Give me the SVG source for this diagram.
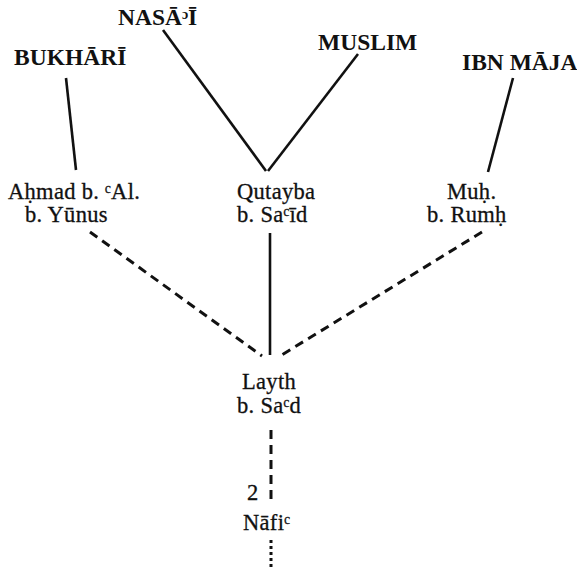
<svg xmlns="http://www.w3.org/2000/svg" width="577" height="570" viewBox="0 0 577 570">
  <style>
    .head { font-family: "Liberation Serif", "DejaVu Serif", serif; font-size: 23.5px; font-weight: bold; fill: #111; }
    .name { font-family: "Liberation Serif", "DejaVu Serif", serif; font-size: 22.5px; letter-spacing: 0.3px; fill: #111; stroke: #111; stroke-width: 0.3; }
    .solid { stroke: #111; stroke-width: 2.6; fill: none; }
    .dash { stroke: #111; stroke-width: 3; fill: none; stroke-dasharray: 9 6; }
    .dot { stroke: #111; stroke-width: 3; fill: none; stroke-dasharray: 3 3; }
  </style>
  <rect width="577" height="570" fill="#fff"/>

  <!-- lines of transmission -->
  <g id="connectors">
    <line class="solid" x1="66" y1="78" x2="76" y2="170"/>
    <line class="solid" x1="163" y1="30" x2="266" y2="171"/>
    <line class="solid" x1="358" y1="54" x2="268" y2="171"/>
    <line class="solid" x1="513" y1="78" x2="488" y2="172"/>
    <line class="dash" x1="90" y1="232" x2="262" y2="356"/>
    <line class="solid" x1="270" y1="233" x2="270" y2="355"/>
    <line class="dash" x1="482" y1="232" x2="280" y2="356"/>
    <line class="dash" x1="271" y1="430" x2="271" y2="500"/>
    <line class="dot" x1="271" y1="540" x2="271" y2="570"/>
  </g>

  <!-- collectors -->
  <g id="nasai"><text class="head" x="118" y="25">NASĀᵓĪ</text></g>
  <g id="bukhari"><text class="head" x="14" y="65">BUKHĀRĪ</text></g>
  <g id="muslim"><text class="head" x="318" y="50">MUSLIM</text></g>
  <g id="ibn-maja"><text class="head" x="462" y="70">IBN MĀJA</text></g>

  <!-- transmitters -->
  <g id="ahmad">
    <text class="name" x="8" y="199">Aḥmad b. ᶜAl.</text>
    <text class="name" x="25" y="222">b. Yūnus</text>
  </g>
  <g id="qutayba">
    <text class="name" x="237" y="199">Qutayba</text>
    <text class="name" x="237" y="222">b. Saᶜīd</text>
  </g>
  <g id="muh">
    <text class="name" x="447" y="199">Muḥ.</text>
    <text class="name" x="427" y="222">b. Rumḥ</text>
  </g>
  <g id="layth">
    <text class="name" x="242" y="389">Layth</text>
    <text class="name" x="237" y="413">b. Saᶜd</text>
  </g>
  <g id="nafi">
    <text class="name" x="247" y="500">2</text>
    <text class="name" x="243" y="530">Nāfiᶜ</text>
  </g>
</svg>
